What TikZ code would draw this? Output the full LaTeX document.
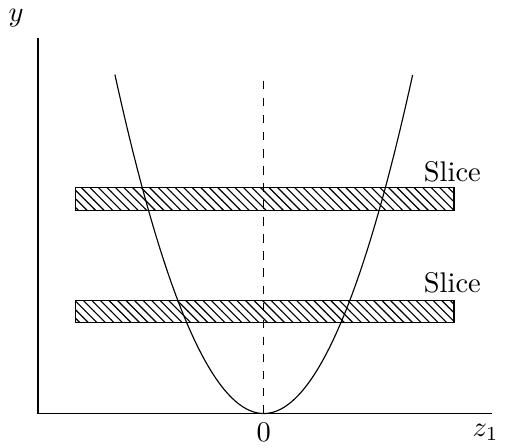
\documentclass[tikz,border=0pt]{standalone}
\usepackage{tikz}
\usetikzlibrary{patterns, positioning}

\begin{document}
\begin{tikzpicture}[
    axis/.style={thin},
    slicebox/.style={draw, thin, pattern=north west lines},
    parab/.style={thin, domain=-1.84:1.84, samples=80}
]
    \useasboundingbox (-3.26,-0.42) rectangle (3.24,5.11);
    % axes
    \coordinate (o) at (0,0);
    \coordinate (ytop) at (-2.79,4.64);
    \coordinate (ybot) at (-2.79,0);
    \coordinate (xend) at (2.82,0);
    \draw[axis] (ytop) -- (ybot) -- (xend);
    \node (ylab) at (-3.06,4.89) {$y$};
    \node (zlab) at (2.74,-0.23) {$z_1$};
    \node (zero) at (0,-0.23) {$0$};

    % slices
    \draw[slicebox] (-2.33,2.51) rectangle (2.35,2.79);
    \draw[slicebox] (-2.33,1.12) rectangle (2.35,1.40);
    \node (upper) at (2.33,2.99) {Slice};
    \node (lower) at (2.33,1.62) {Slice};

    % symmetry line and parabola
    \coordinate (dtop) at (0,4.19);
    \draw[thin, dashed] (o) -- (dtop);
    \draw[parab] plot (\x, {1.237*\x*\x});
\end{tikzpicture}
\end{document}
